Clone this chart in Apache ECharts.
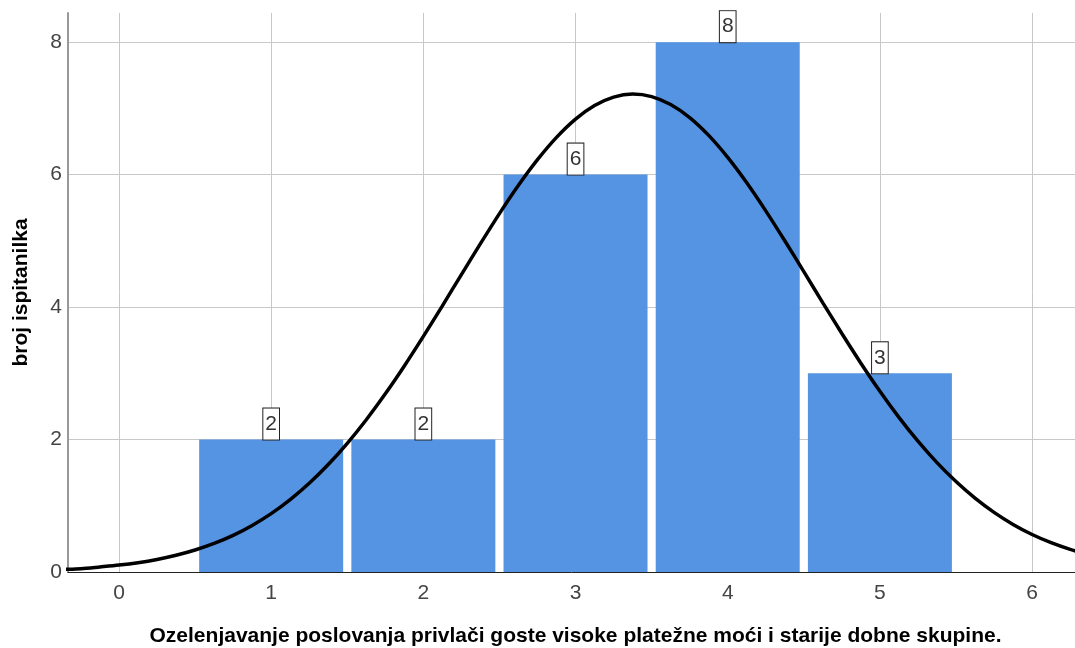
<!DOCTYPE html>
<html>
<head>
<meta charset="utf-8">
<script src="https://cdn.jsdelivr.net/npm/echarts@6/dist/echarts.min.js"></script>
<style>html,body{margin:0;padding:0;background:#fff}#c{width:1075px;height:648px}</style>
</head>
<body>
<div id="c"></div>
<script>
// Histogram categories (response values) and counts
const categories = [1, 2, 3, 4, 5];
const counts = [2, 2, 6, 8, 3];
// Normal curve points (x positions and heights)
const curveX = [-0.5, -0.375, -0.25, -0.125, 0, 0.125, 0.25, 0.375, 0.5, 0.625, 0.75, 0.875,
  1, 1.125, 1.25, 1.375, 1.5, 1.625, 1.75, 1.875, 2, 2.125, 2.25, 2.375, 2.5, 2.625, 2.75, 2.875,
  3, 3.125, 3.25, 3.375, 3.5, 3.625, 3.75, 3.875, 4, 4.125, 4.25, 4.375, 4.5, 4.625, 4.75, 4.875,
  5, 5.125, 5.25, 5.375, 5.5, 5.625, 5.75, 5.875, 6, 6.125, 6.25, 6.375, 6.5];
const curveY = [0.027, 0.039, 0.05, 0.076, 0.104, 0.141, 0.19, 0.253, 0.332, 0.431, 0.553, 0.703,
  0.881, 1.093, 1.339, 1.622, 1.943, 2.299, 2.69, 3.111, 3.557, 4.019, 4.491, 4.957, 5.411, 5.838, 6.225, 6.562,
  6.838, 7.043, 7.17, 7.216, 7.178, 7.058, 6.861, 6.592, 6.26, 5.877, 5.453, 5.001, 4.535, 4.064, 3.601, 3.153,
  2.729, 2.335, 1.975, 1.651, 1.365, 1.115, 0.9, 0.718, 0.566, 0.442, 0.341, 0.259, 0.195];
const xTicks = [0, 1, 2, 3, 4, 5, 6];
const yTicks = [0, 2, 4, 6, 8];
const xTitle = 'Ozelenjavanje poslovanja privlači goste visoke platežne moći i starije dobne skupine.';
const yTitle = 'broj ispitanilka';

const font = "Arial, 'Liberation Sans', sans-serif";
const chart = echarts.init(document.getElementById('c'), null, {renderer: 'canvas'});
chart.setOption({
  animation: false,
  textStyle: {fontFamily: font},
  grid: {left: 68, right: 0, top: 13, bottom: 76, containLabel: false, outerBoundsMode: 'none'},
  xAxis: {
    type: 'value',
    min: -0.335,
    max: 6.282,
    splitNumber: 6,
    minInterval: 1,
    maxInterval: 1,
    name: xTitle,
    nameLocation: 'middle',
    nameGap: 54,
    nameTextStyle: {fontFamily: font, fontSize: 21, fontWeight: 'bold', color: '#000', padding: [0, 0, 0, 8]},
    axisLine: {show: true, onZero: false, lineStyle: {color: '#222', width: 1}},
    axisTick: {show: false},
    axisLabel: {
      fontFamily: font, fontSize: 21, color: '#444', margin: 11,
      showMinLabel: false, showMaxLabel: false,
      formatter: v => (xTicks.indexOf(v) >= 0 ? String(v) : '')
    },
    splitLine: {show: true, showMinLine: false, showMaxLine: false, lineStyle: {color: '#c8c8c8', width: 1}}
  },
  yAxis: {
    type: 'value',
    min: 0,
    max: 8.44,
    interval: 2,
    name: yTitle,
    nameLocation: 'middle',
    nameRotate: 90,
    nameGap: 36,
    nameTextStyle: {fontFamily: font, fontSize: 21, fontWeight: 'bold', color: '#000'},
    axisLine: {show: true, onZero: false, lineStyle: {color: '#999', width: 2}},
    axisTick: {show: false},
    axisLabel: {
      fontFamily: font, fontSize: 21, color: '#444', margin: 6,
      showMaxLabel: false,
      formatter: v => (yTicks.indexOf(v) >= 0 ? String(v) : '')
    },
    splitLine: {show: true, showMaxLine: false, lineStyle: {color: '#c8c8c8', width: 1}}
  },
  series: [
    {
      type: 'bar',
      data: categories.map((c, i) => [c, counts[i]]),
      barWidth: 144,
      itemStyle: {color: '#5594e2'},
      label: {
        show: true,
        position: 'top',
        distance: 0,
        formatter: p => String(p.value[1]),
        fontFamily: font,
        fontSize: 21,
        lineHeight: 21,
        color: '#333',
        backgroundColor: '#fff',
        borderColor: '#222',
        borderWidth: 1,
        padding: [5, 2, 5, 2]
      },
      z: 2
    },
    {
      type: 'line',
      data: curveX.map((x, i) => [x, curveY[i]]),
      smooth: 0.3,
      showSymbol: false,
      clip: true,
      lineStyle: {color: '#000', width: 3.5},
      z: 3
    }
  ]
});
</script>
</body>
</html>
